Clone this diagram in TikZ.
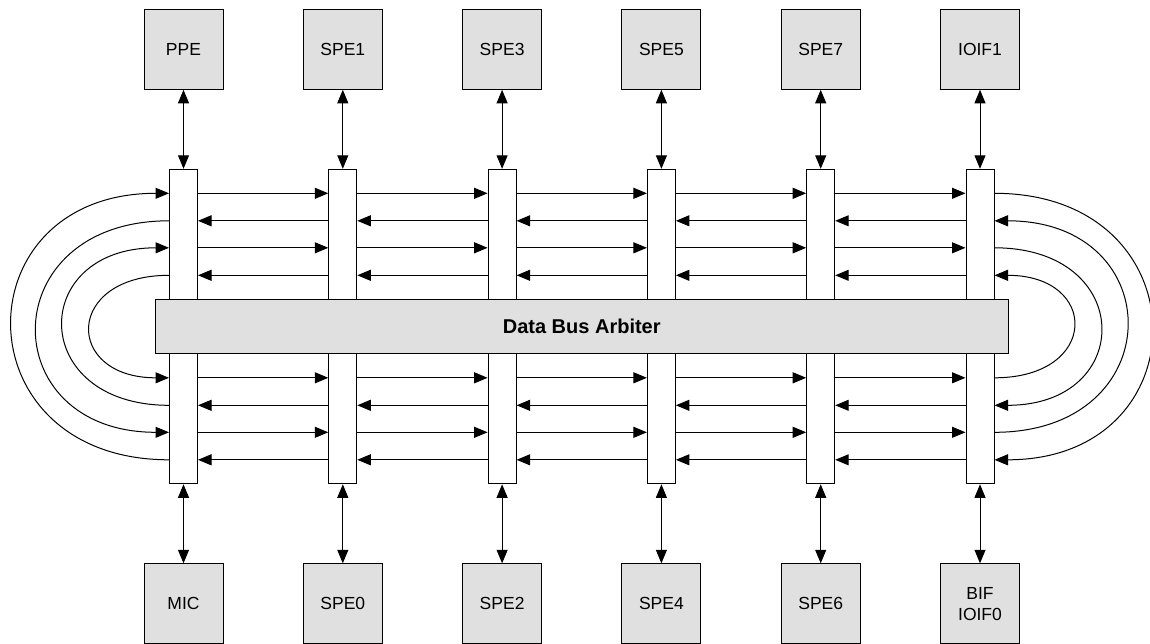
\documentclass[tikz,border=0pt]{standalone}
\usepackage{fontspec}
\setmainfont{Liberation Sans}
\usetikzlibrary{arrows.meta}

\definecolor{unitgray}{RGB}{224,224,224}

\begin{document}
\begin{tikzpicture}
	[x=1pt,y=1pt,>={Triangle[length=13.5pt,width=11pt]},line width=1pt,
		node distance=159.3pt,
		unit/.style={draw,fill=unitgray,minimum width=79pt,minimum height=80pt,inner sep=0pt,align=center,font=\fontsize{17.5}{21}\selectfont},
		port/.style={draw,fill=white,minimum width=28pt,minimum height=130pt,inner sep=0pt,node distance=185pt},
		arbiter/.style={draw,fill=unitgray,minimum width=853pt,minimum height=54pt,font=\fontsize{20}{24}\selectfont\bfseries}]

	\path[use as bounding box,clip] (0,0) rectangle (1150,-643);

	% units on top
	\node[unit] (ppe) at (183.5,-49.3) {PPE};
	\node[unit] (spe1)[right of = ppe] {SPE1};
	\node[unit] (spe3)[right of = spe1] {SPE3};
	\node[unit] (spe5)[right of = spe3] {SPE5};
	\node[unit] (spe7)[right of = spe5] {SPE7};
	\node[unit] (ioif1)[right of = spe7] {IOIF1};

	% units below
	\node[unit] (mic) at (183.5,-603.8) {MIC};
	\node[unit] (spe0)[right of = mic] {SPE0};
	\node[unit] (spe2)[right of = spe0] {SPE2};
	\node[unit] (spe4)[right of = spe2] {SPE4};
	\node[unit] (spe6)[right of = spe4] {SPE6};
	\node[unit] (bif)[right of = spe6] {BIF\\IOIF0};

	\node[arbiter] (dba) at (581.75,-326.5) {Data Bus Arbiter};

	% ramps
	\foreach \u/\i in {ppe/1,spe1/2,spe3/3,spe5/4,spe7/5,ioif1/6}{
		\node[port] (t\i)[below of = \u] {};
		\draw[<->] (\u) -- (t\i);
	}
	\foreach \u/\i in {mic/1,spe0/2,spe2/3,spe4/4,spe6/5,bif/6}{
		\node[port] (b\i)[above of = \u] {};
		\draw[<->] (b\i) -- (\u);
	}

	% rings running clockwise
	\foreach \ty/\by/\c in {41/-41/209,-13.5/13.5/141}{
		\foreach \a/\b in {1/2,2/3,3/4,4/5,5/6}{
			\draw[->] ([yshift=\ty pt]t\a.east) -- ([yshift=\ty pt]t\b.west);
			\draw[<-] ([yshift=\by pt]b\a.east) -- ([yshift=\by pt]b\b.west);
		}
		\draw[->] ([yshift=\by pt]b1.west) .. controls +(-\c,0) and +(-\c,0) .. ([yshift=\ty pt]t1.west);
		\draw[->] ([yshift=\ty pt]t6.east) .. controls +(\c,0) and +(\c,0) .. ([yshift=\by pt]b6.east);
	}
	% rings running counterclockwise
	\foreach \ty/\by/\c in {13.5/-13.5/176,-41/41/105}{
		\foreach \a/\b in {1/2,2/3,3/4,4/5,5/6}{
			\draw[<-] ([yshift=\ty pt]t\a.east) -- ([yshift=\ty pt]t\b.west);
			\draw[->] ([yshift=\by pt]b\a.east) -- ([yshift=\by pt]b\b.west);
		}
		\draw[->] ([yshift=\ty pt]t1.west) .. controls +(-\c,0) and +(-\c,0) .. ([yshift=\by pt]b1.west);
		\draw[->] ([yshift=\by pt]b6.east) .. controls +(\c,0) and +(\c,0) .. ([yshift=\ty pt]t6.east);
	}

\end{tikzpicture}
\end{document}
